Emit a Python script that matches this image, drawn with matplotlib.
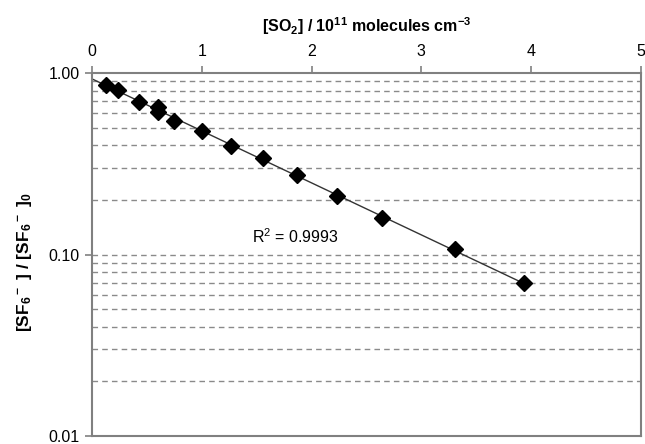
import numpy as np
import matplotlib
matplotlib.use("Agg")
import matplotlib.pyplot as plt

plt.rcParams['font.family'] = ['Liberation Sans', 'DejaVu Sans']
plt.rcParams['mathtext.default'] = 'regular'

# [SO2] / 1e11 molecules cm-3 and normalised SF6- signal
so2 = [0.127, 0.24, 0.428, 0.604, 0.604, 0.75, 0.999, 1.266, 1.555,
       1.864, 2.229, 2.646, 3.306, 3.937]
ratio = [0.859, 0.806, 0.695, 0.647, 0.612, 0.546, 0.481, 0.396, 0.340,
         0.274, 0.210, 0.158, 0.107, 0.0694]
x_ticks = [0, 1, 2, 3, 4, 5]
y_ticks = [0.01, 0.1, 1.0]
y_ticklabels = ['0.01', '0.10', '1.00']
r2_text = 'R$^2$ = 0.9993'

fig = plt.figure(figsize=(6.45, 4.44), dpi=100)
ax = fig.add_axes([0.1426, 0.018, 0.851, 0.8176])

# dashed grid at every decade step
grid_vals = [m * 10.0 ** e for e in (-2, -1) for m in range(1, 10)]
for g in grid_vals:
    ax.axhline(g, color='#8a8a8a', lw=1.0, ls=(0, (4, 3)), zorder=1)

# exponential trendline
slope, icpt = np.polyfit(so2, np.log(ratio), 1)
xs = np.linspace(0, max(so2), 100)
ax.plot(xs, np.exp(icpt + slope * xs), color='#333333', lw=1.0, zorder=2)

ax.plot(so2, ratio, ls='none', marker='D', ms=8, color='black', zorder=3)

ax.set_yscale('log')
ax.set_xlim(0, 5)
ax.set_ylim(0.01, 1.0)
ax.set_yticks(y_ticks)
ax.set_yticklabels(y_ticklabels)
ax.yaxis.set_minor_locator(matplotlib.ticker.NullLocator())
ax.set_xticks(x_ticks)
ax.xaxis.tick_top()
ax.xaxis.set_label_position('top')
ax.tick_params(axis='both', labelsize=11.5, color='#808080', length=5, width=1.2)
ax.tick_params(axis='x', pad=5)
ax.tick_params(axis='y', pad=4)

for sp in ax.spines.values():
    sp.set_color('#808080')
    sp.set_linewidth(1.5)

ax.set_xlabel('[SO$_2$] / 10$^{11}$ molecules cm$^{-3}$', fontsize=11.5,
              fontweight='bold', labelpad=9)
ax.set_ylabel('[SF$_6$$^-$ ] / [SF$_6$$^-$ ]$_0$', fontsize=12.5,
              fontweight='bold')
ax.yaxis.set_label_coords(-0.105, 0.48)

ax.text(1.85, 0.125, r2_text, fontsize=11.5, ha='center', va='center')

fig.savefig('out.png', dpi=100)
